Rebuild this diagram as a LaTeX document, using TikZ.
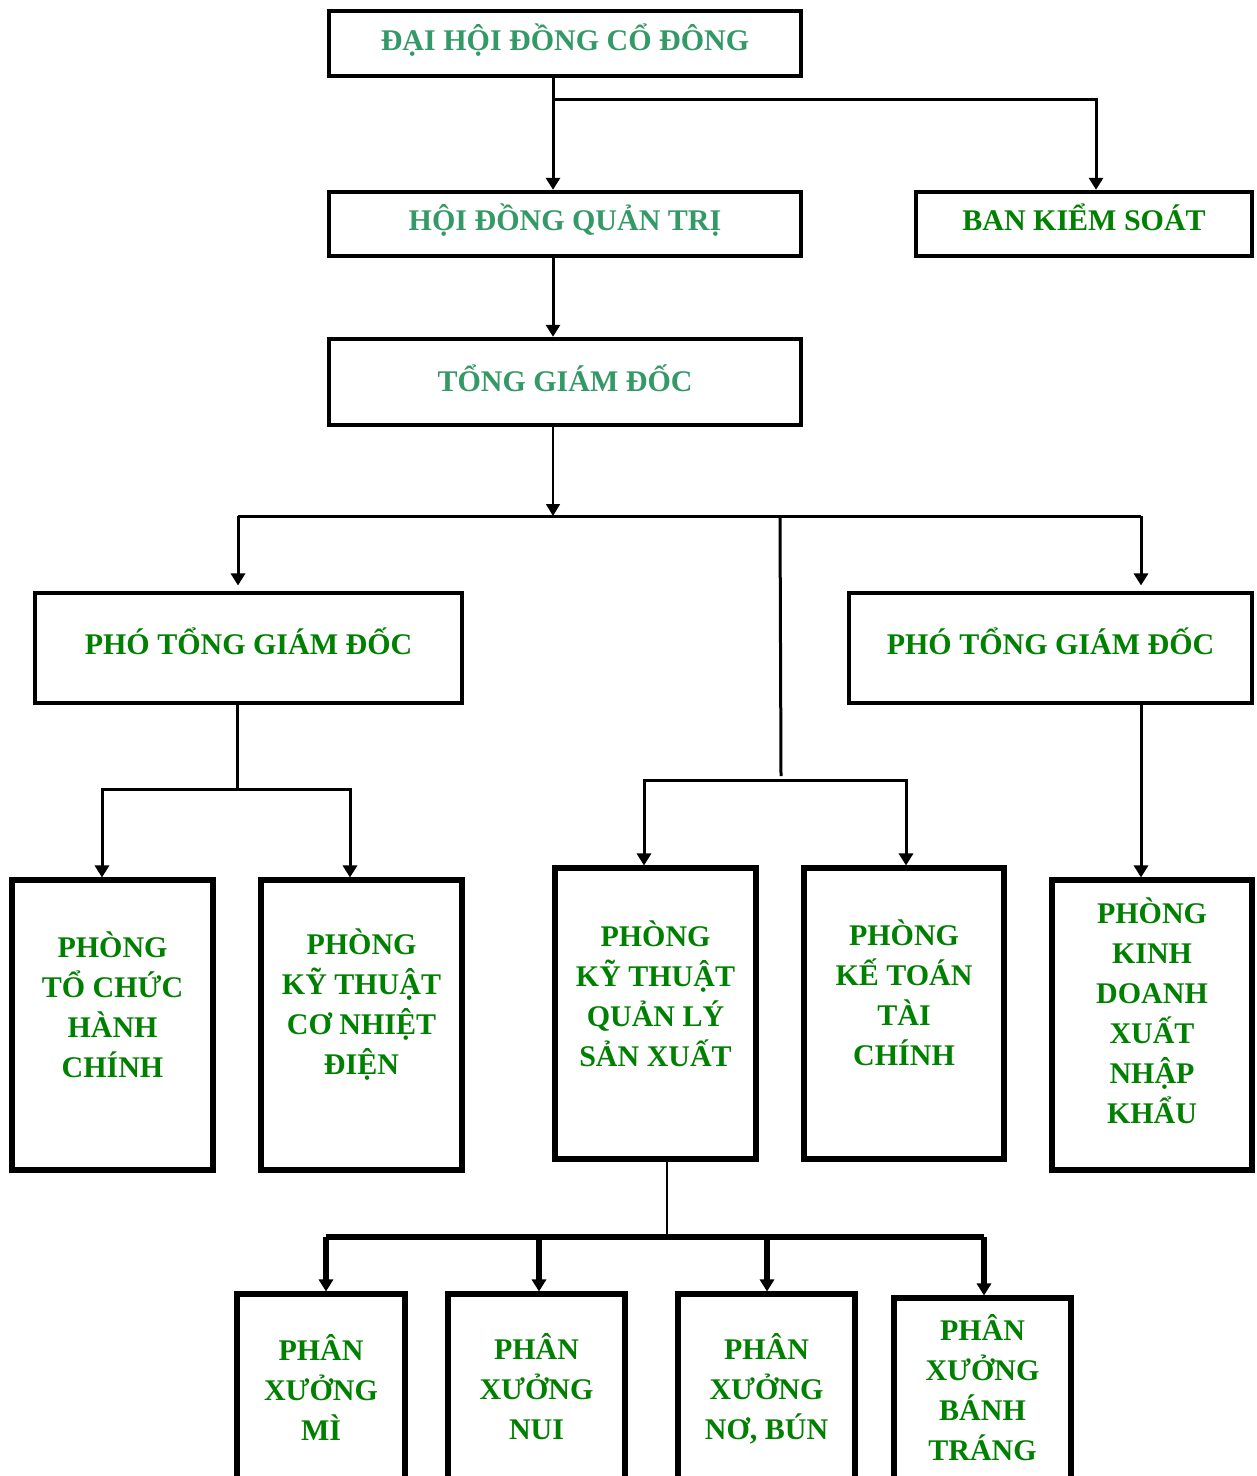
\documentclass[tikz,border=0pt]{standalone}
\usepackage{fontspec}
\setmainfont{Liberation Serif}
\usetikzlibrary{arrows.meta}
\definecolor{lg}{RGB}{51,153,102}
\definecolor{dg}{RGB}{0,128,0}
\begin{document}
\begin{tikzpicture}[x=0.75pt,y=-0.75pt,
  box/.style={draw, line width=3.3pt, rectangle, inner sep=0pt},
  bigbox/.style={box, line width=3.8pt},
  txt/.style={font=\bfseries\fontsize{22.5}{30}\selectfont, align=center, text=dg, inner sep=0pt},
  ltxt/.style={txt, text=lg},
  ln/.style={line width=2.25pt},
  thin/.style={line width=1.2pt},
  thick/.style={line width=4pt},
  tip/.style={-{Triangle[width=10.5pt,length=9pt]}},
  arr/.style={ln, tip}]
\clip (0,0) rectangle (1256,1476);
\fill[white] (0,0) rectangle (1256,1476);
% boxes
\node[box, minimum width=354pt, minimum height=48.75pt] (dh) at (565,43.5) {};
\node[box, minimum width=354pt, minimum height=48pt] (hd) at (565,224) {};
\node[box, minimum width=252pt, minimum height=48pt] (bks) at (1084,224) {};
\node[box, minimum width=354pt, minimum height=64.5pt] (tgd) at (565,382) {};
\node[box, minimum width=320.25pt, minimum height=82.5pt] (ptl) at (248.5,648) {};
\node[box, minimum width=302.25pt, minimum height=82.5pt] (ptr) at (1050.5,648) {};
\node[bigbox, minimum width=150.75pt, minimum height=217.5pt] (tchc) at (112.5,1025) {};
\node[bigbox, minimum width=150.75pt, minimum height=217.5pt] (ktcn) at (361.5,1025) {};
\node[bigbox, minimum width=150.75pt, minimum height=218.25pt] (ktql) at (655.5,1013.5) {};
\node[bigbox, minimum width=150pt, minimum height=218.25pt] (kttc) at (904,1013.5) {};
\node[bigbox, minimum width=150pt, minimum height=217.5pt] (kdx) at (1152,1025) {};
\node[bigbox, minimum width=126pt, minimum height=142.5pt] (pxmi) at (321,1389) {};
\node[bigbox, minimum width=132.75pt, minimum height=142.5pt] (pxnui) at (536.5,1389) {};
\node[bigbox, minimum width=132.75pt, minimum height=142.5pt] (pxno) at (766.5,1389) {};
\node[bigbox, minimum width=132.75pt, minimum height=139.5pt] (pxbt) at (982.5,1391) {};
% texts
\node[ltxt] (dht) at (565,40) {ĐẠI HỘI ĐỒNG CỔ ĐÔNG};
\node[ltxt] (hdt) at (565,220) {HỘI ĐỒNG QUẢN TRỊ};
\node[txt] (bkst) at (1084,217) {BAN KIỂM SOÁT};
\node[ltxt] (tgdt) at (565,378) {TỔNG GIÁM ĐỐC};
\node[txt] (ptlt) at (248.5,641) {PHÓ TỔNG GIÁM ĐỐC};
\node[txt] (ptrt) at (1050.5,641) {PHÓ TỔNG GIÁM ĐỐC};
\node[txt] (tchct) at (112.5,1005) {PHÒNG\\TỔ CHỨC\\HÀNH\\CHÍNH};
\node[txt] (ktcnt) at (361.5,1005) {PHÒNG\\KỸ THUẬT\\CƠ NHIỆT\\ĐIỆN};
\node[txt] (ktqlt) at (655.5,994) {PHÒNG\\KỸ THUẬT\\QUẢN LÝ\\SẢN XUẤT};
\node[txt] (kttct) at (904,993) {PHÒNG\\KẾ TOÁN\\TÀI\\CHÍNH};
\node[txt] (kdxt) at (1152,1011) {PHÒNG\\KINH\\DOANH\\XUẤT\\NHẬP\\KHẨU};
\node[txt] (pxmit) at (321,1387) {PHÂN\\XƯỞNG\\MÌ};
\node[txt] (pxnuit) at (536.5,1387) {PHÂN\\XƯỞNG\\NUI};
\node[txt] (pxnot) at (766.5,1389) {PHÂN\\XƯỞNG\\NƠ, BÚN};
\node[txt] (pxbtt) at (982.5,1388) {PHÂN\\XƯỞNG\\BÁNH\\TRÁNG};
% junctions
\coordinate (j1) at (553,100);
\coordinate (j2) at (1096,100);
\coordinate (j3) at (553,516);
\coordinate (h1) at (238,516);
\coordinate (h2) at (1141,516);
\coordinate (v1) at (780,516);
\coordinate (v2) at (781,776);
\coordinate (m1) at (644,780);
\coordinate (m2) at (906,780);
\coordinate (k0) at (237,789);
\coordinate (k1) at (102,789);
\coordinate (k2) at (350,789);
\coordinate (b0) at (667,1237);
\coordinate (b1) at (326,1237);
\coordinate (b2) at (539,1237);
\coordinate (b3) at (767,1237);
\coordinate (b4) at (984,1237);
% connectors
\draw[arr] (dh.south -| j1) -- (hd.north -| j1);
\draw[arr] (j1) -- (j2) -- (j2 |- bks.north);
\draw[arr] (hd.south -| j1) -- (tgd.north -| j1);
\draw[thin, tip] (tgd.south -| j3) -- (j3);
\draw[ln] (h1) -- (h2);
\draw[arr, shorten >=4pt] (h1) -- (h1 |- ptl.north);
\draw[arr, shorten >=4pt] (h2) -- (h2 |- ptr.north);
\draw[ln] (v1) -- (v2);
\draw[arr] (m2 -| v2) -- (m1) -- (m1 |- ktql.north);
\draw[arr] (m2 -| v2) -- (m2) -- (m2 |- kttc.north);
\draw[ln] (ptl.south -| k0) -- (k0);
\draw[arr] (k0) -- (k1) -- (k1 |- tchc.north);
\draw[arr] (k0) -- (k2) -- (k2 |- ktcn.north);
\draw[arr] (ptr.south -| h2) -- (h2 |- kdx.north);
\draw[line width=2pt] (ktql.south -| b0) -- (b0);
\draw[line width=4.2pt] (b1) -- (b4);
\draw[thick, tip] (b1) -- (b1 |- pxmi.north);
\draw[thick, tip] (b2) -- (b2 |- pxnui.north);
\draw[thick, tip] (b3) -- (b3 |- pxno.north);
\draw[thick, tip] (b4) -- (b4 |- pxbt.north);
\end{tikzpicture}
\end{document}
